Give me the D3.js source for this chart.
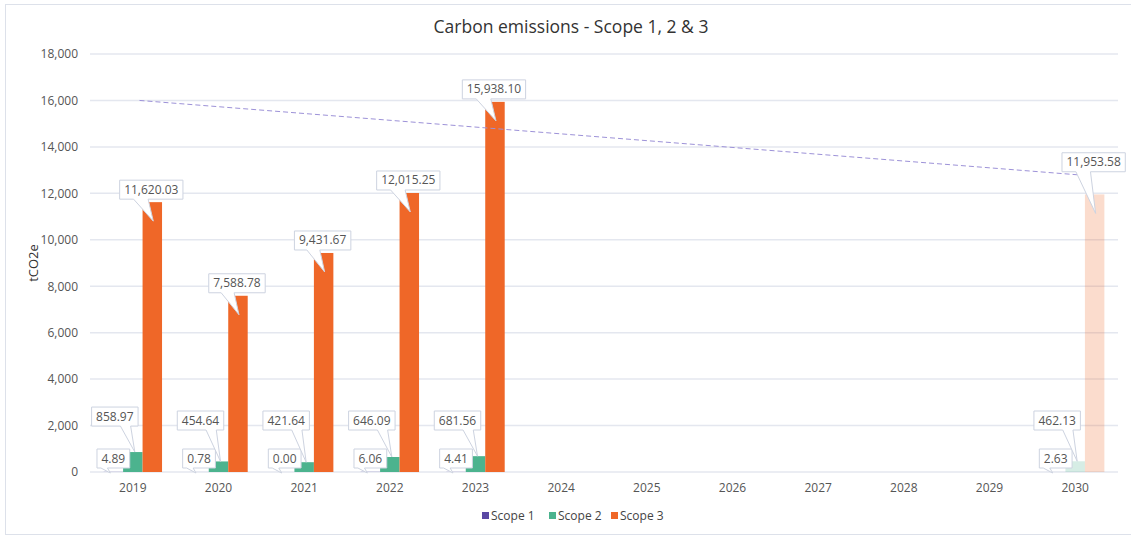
<!DOCTYPE html>
<html>
<head>
<meta charset="utf-8">
<script src="https://cdn.jsdelivr.net/npm/d3@7"></script>
<style>
  body { margin: 0; background: #fff; font-family: "Open Sans", "Noto Sans", sans-serif; }
</style>
</head>
<body>
<script>
// chart data
const years = ["2019","2020","2021","2022","2023","2024","2025","2026","2027","2028","2029","2030"];
const seriesNames = ["Scope 1", "Scope 2", "Scope 3"];
const scope1 = [4.89, 0.78, 0.00, 6.06, 4.41, null, null, null, null, null, null, 2.63];
const scope2 = [858.97, 454.64, 421.64, 646.09, 681.56, null, null, null, null, null, null, 462.13];
const scope3 = [11620.03, 7588.78, 9431.67, 12015.25, 15938.10, null, null, null, null, null, null, 11953.58];
const targetYears = [2019, 2030];
const targetValues = [16000, 12800];
const yTicks = [0, 2000, 4000, 6000, 8000, 10000, 12000, 14000, 16000, 18000];
const projectedYears = ["2030"];

const colors = { "Scope 1": "#5a48a4", "Scope 2": "#4cb38e", "Scope 3": "#ef6728" };

const width = 1131, height = 536;
const margin = { left: 90, right: 13, top: 54, bottom: 64 };

const svg = d3.select("body").append("svg")
    .attr("width", width)
    .attr("height", height);

// outer frame
svg.append("rect")
    .attr("x", 5.5).attr("y", 4.5)
    .attr("width", width).attr("height", 530)
    .attr("fill", "none")
    .attr("stroke", "#dde1ea");

svg.append("text")
    .attr("x", 571).attr("y", 33)
    .attr("text-anchor", "middle")
    .style("font-size", "17.5px")
    .style("fill", "#333")
    .text("Carbon emissions - Scope 1, 2 & 3");

const x = d3.scaleBand()
    .domain(years)
    .range([margin.left, width - margin.right - 0])
    .padding(0);

const xSub = d3.scaleBand()
    .domain(seriesNames)
    .range([0, x.bandwidth()])
    .paddingInner(0)
    .paddingOuter(0.7);

const y = d3.scaleLinear()
    .domain([0, 18000])
    .range([height - margin.bottom, margin.top]);

// gridlines
svg.append("g")
    .selectAll("line")
    .data(yTicks)
    .join("line")
    .attr("x1", margin.left).attr("x2", x.range()[1])
    .attr("y1", d => y(d)).attr("y2", d => y(d))
    .attr("stroke", "#e4e7ef")
    .attr("stroke-width", 1.5);

// y axis labels
const yAxis = svg.append("g")
    .attr("transform", `translate(${margin.left}, 0)`)
    .call(d3.axisLeft(y).tickValues(yTicks).tickSize(0).tickPadding(12).tickFormat(d3.format(",")));
yAxis.select(".domain").remove();
yAxis.selectAll("text")
    .style("font-family", "'Open Sans', sans-serif")
    .style("font-size", "12px")
    .style("fill", "#555");

svg.append("text")
    .attr("transform", `translate(38, ${(y(0) + y(18000)) / 2}) rotate(-90)`)
    .attr("text-anchor", "middle")
    .style("font-size", "13px")
    .style("fill", "#333")
    .text("tCO2e");

// x axis labels
const xAxis = svg.append("g")
    .attr("transform", `translate(0, ${y(0)})`)
    .call(d3.axisBottom(x).tickSize(0).tickPadding(11));
xAxis.select(".domain").remove();
xAxis.selectAll("text")
    .style("font-family", "'Open Sans', sans-serif")
    .style("font-size", "12px")
    .style("fill", "#555");

// bars
const table = [];
years.forEach((yr, i) => {
    [scope1, scope2, scope3].forEach((arr, k) => {
        if (arr[i] !== null) table.push({ year: yr, series: seriesNames[k], value: arr[i] });
    });
});

svg.append("g")
    .selectAll("rect")
    .data(table)
    .join("rect")
    .attr("x", d => x(d.year) + xSub(d.series))
    .attr("width", xSub.bandwidth())
    .attr("y", d => y(d.value))
    .attr("height", d => y(0) - y(d.value))
    .attr("fill", d => colors[d.series])
    .attr("fill-opacity", d => projectedYears.includes(d.year) ? 0.23 : 1);

// target line
const xLine = d3.scaleLinear().domain(targetYears).range([139.5, 1077]);
const lineData = targetYears.map((t, i) => [t, targetValues[i]]);
svg.append("path")
    .datum(lineData)
    .attr("d", d3.line().x(d => xLine(d[0])).y(d => y(d[1])))
    .attr("fill", "none")
    .attr("stroke", "#9d92d8")
    .attr("stroke-width", 1)
    .attr("stroke-dasharray", "5,3");

function lineYAt(px) {
    const cx = Math.max(xLine.range()[0], Math.min(xLine.range()[1], px));
    return y(targetValues[0] + (targetValues[1] - targetValues[0]) * (cx - xLine.range()[0]) / (xLine.range()[1] - xLine.range()[0]));
}

// callout labels
const labelG = svg.append("g");
const fmt = d3.format(",.2f");

function callout(txt, boxCx, boxBottom, baseL, baseR, tipX, tipY) {
    const g = labelG.append("g");
    const path = g.append("path");
    const t = g.append("text")
        .attr("x", boxCx)
        .attr("y", boxBottom - 5.5)
        .attr("text-anchor", "middle")
        .style("font-size", "12px")
        .style("fill", "#555")
        .text(txt);
    const w = t.node().getComputedTextLength() + 9;
    const h = 19;
    const l = boxCx - w / 2, r = boxCx + w / 2, top = boxBottom - h;
    const bl = l + baseL * w, br = l + baseR * w;
    path.attr("d", `M${l},${top}H${r}V${boxBottom}H${br}L${tipX},${tipY}L${bl},${boxBottom}H${l}Z`)
        .attr("fill", "#fff")
        .attr("stroke", "#cdd3e0")
        .attr("stroke-width", 1);
    return w;
}

table.forEach(d => {
    const bx = x(d.year) + xSub(d.series) + xSub.bandwidth() / 2;
    const top = y(d.value);
    const txt = fmt(d.value);
    if (d.series === "Scope 3") {
        let bottom = top - 3;
        const ly = lineYAt(bx);
        if (bottom > ly - 3 && bottom - 19 < ly + 3) bottom = ly - 3;
        callout(txt, bx - 1, bottom, 0.22, 0.45, bx + 1, top + 19);
    } else if (d.series === "Scope 2") {
        const bottom = Math.min(top - 26, 430);
        callout(txt, bx - 18, bottom, 0.62, 0.84, bx + 2, top);
    } else {
        callout(txt, bx, y(0) - 4, 0.12, 0.32, bx - 3, y(0) + 1);
    }
});

// legend
const legend = svg.append("g").attr("transform", "translate(482, 516)");
const legendX = [0, 67, 129];
seriesNames.forEach((s, i) => {
    const g = legend.append("g").attr("transform", `translate(${legendX[i]}, 0)`);
    g.append("rect")
        .attr("x", 0).attr("y", -4)
        .attr("width", 7).attr("height", 7)
        .attr("fill", colors[s]);
    g.append("text")
        .attr("x", 9).attr("y", 4)
        .style("font-size", "12px")
        .style("fill", "#444")
        .text(s);
});
</script>
</body>
</html>
